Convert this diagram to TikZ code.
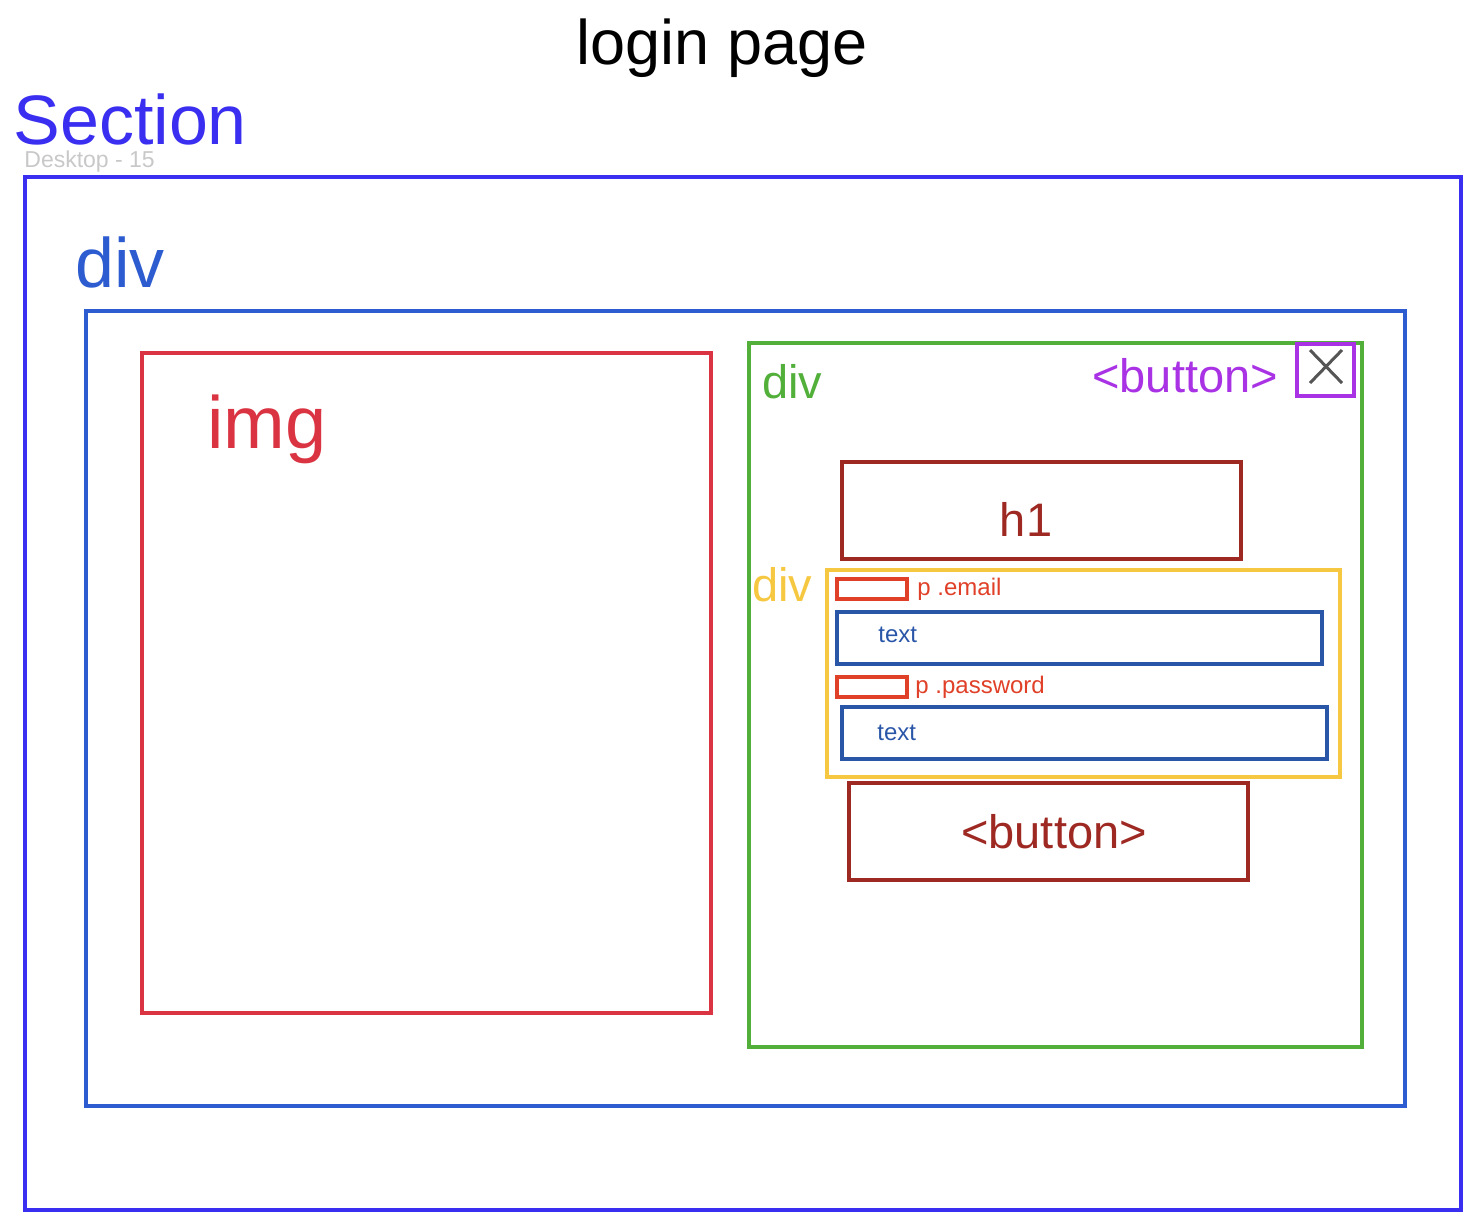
\documentclass[tikz,border=0pt]{standalone}
\usepackage{fontspec}
\setmainfont{Liberation Sans}
\usetikzlibrary{positioning}
\definecolor{secblue}{RGB}{58,46,240}
\definecolor{divblue}{RGB}{44,92,208}
\definecolor{imgred}{RGB}{218,52,66}
\definecolor{divgreen}{RGB}{82,176,58}
\definecolor{btnpurple}{RGB}{168,50,228}
\definecolor{darkred}{RGB}{158,40,34}
\definecolor{divyellow}{RGB}{246,200,66}
\definecolor{pred}{RGB}{224,64,40}
\definecolor{inputblue}{RGB}{42,86,168}
\definecolor{closegray}{RGB}{85,85,85}
\definecolor{framegray}{RGB}{200,200,200}

\begin{document}
\begin{tikzpicture}[
    x=0.5pt, y=-0.5pt,
    frame/.style={draw=#1, line width=2pt, inner sep=0pt, outer sep=0pt, anchor=north west},
    wh/.style 2 args={minimum width=#1*0.5pt, minimum height=#2*0.5pt},
    tag/.style={text=#1, inner sep=0pt, anchor=base west},
    big/.style={font=\fontsize{35}{40}\selectfont},
    mid/.style={font=\fontsize{23.5}{27}\selectfont},
    small/.style={font=\fontsize{12}{14}\selectfont}
]
\useasboundingbox (0,0) rectangle (1472,1222);

% Title
\node[anchor=base, inner sep=0pt, font=\fontsize{31.5}{36}\selectfont] (title) at (722,64) {login page};

% Section
\node[tag=secblue, big, text depth=0pt] (seclabel) at (13,144) {Section};
\node[tag=framegray, font=\fontsize{11.5}{13}\selectfont, text height=8pt] (desktop) at (24,167) {Desktop - 15};
\node[frame=secblue, wh={1436}{1033}] (section) at (25,177) {};

% Outer div
\node[tag=divblue, big] (divlabel) at (75,287) {div};
\node[frame=divblue, wh={1319}{795}] (outerdiv) at (86,311) {};

% Image
\node[frame=imgred, wh={569}{660}] (img) at (142,353) {};
\node[tag=imgred, font=\fontsize{37}{42}\selectfont] (imglabel) at (207,448) {img};

% Login div
\node[frame=divgreen, wh={613}{704}] (logindiv) at (749,343) {};
\node[tag=divgreen, mid] (loginlabel) at (762,398) {div};
\node[tag=btnpurple, mid] (closelabel) at (1092,392) {<button>};
\node[frame=btnpurple, wh={57}{52}] (close) at (1297,344) {};
\draw[closegray, line width=1.5pt] (1310,350) -- (1342,383);
\draw[closegray, line width=1.5pt] (1342,350) -- (1310,383);

% Heading
\node[frame=darkred, wh={399}{97}] (h1) at (842,462) {};
\node[text=darkred, mid, anchor=base, inner sep=0pt] (h1label) at (1026,536) {h1};

% Form div
\node[tag=divyellow, mid] (formlabel) at (752,601) {div};
\node[frame=divyellow, wh={513}{207}] (formdiv) at (827,570) {};

% Email
\node[frame=pred, wh={70}{20}] (email) at (837,579) {};
\node[tag=pred, small] (emaillabel) at (917,595) {p .email};
\node[frame=inputblue, wh={485}{52}] (emailin) at (837,612) {};
\node[tag=inputblue, small] (emailtext) at (878,642) {text};

% Password
\node[frame=pred, wh={70}{20}] (password) at (837,677) {};
\node[tag=pred, small] (passwordlabel) at (915,693) {p .password};
\node[frame=inputblue, wh={485}{52}] (passwordin) at (842,707) {};
\node[tag=inputblue, small] (passwordtext) at (877,740) {text};

% Submit
\node[frame=darkred, wh={399}{97}] (submit) at (849,783) {};
\node[text=darkred, mid, anchor=base, inner sep=0pt] (submitlabel) at (1054,848) {<button>};

\end{tikzpicture}
\end{document}
